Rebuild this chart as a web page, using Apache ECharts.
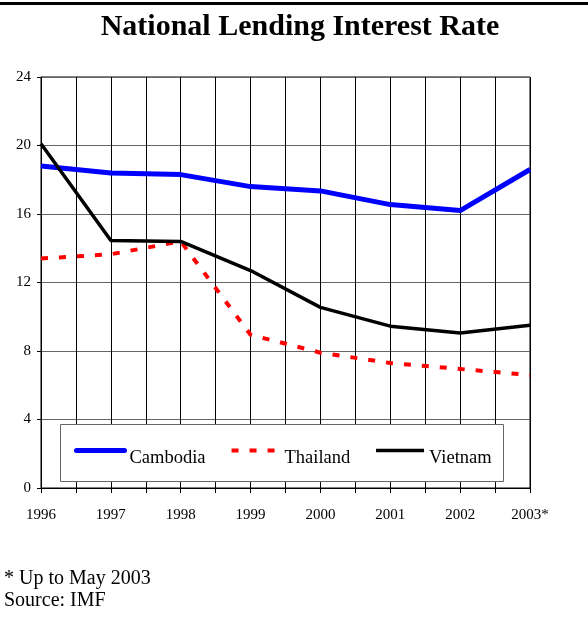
<!DOCTYPE html>
<html>
<head>
<meta charset="utf-8">
<script src="https://cdn.jsdelivr.net/npm/echarts@6/dist/echarts.min.js"></script>
<style>
html, body { margin: 0; padding: 0; background: #fff; }
#chart { width: 588px; height: 619px; }
</style>
</head>
<body>
<div id="chart"></div>
<script>
var years = [1996, 1997, 1998, 1999, 2000, 2001, 2002, 2003]
var yearLabels = ['1996', '1997', '1998', '1999', '2000', '2001', '2002', '2003*']
var cambodia = [18.8, 18.4, 18.3, 17.6, 17.35, 16.55, 16.2, 18.6]
var thailand = [13.4, 13.65, 14.4, 8.95, 7.9, 7.3, 6.95, 6.6]
var vietnam = [20.1, 14.45, 14.4, 12.7, 10.55, 9.45, 9.05, 9.5]

var serif = "'Liberation Serif', 'Times New Roman', serif"

function pairs(vals) {
  return years.map(function (y, i) { return [y, vals[i]] })
}

var chart = echarts.init(document.getElementById('chart'))
chart.setOption({
  animation: false,
  title: {
    text: 'National Lending Interest Rate',
    left: 295,
    textAlign: 'center',
    top: 7,
    textStyle: { fontFamily: serif, fontSize: 30, fontWeight: 'bold', color: '#000' }
  },
  grid: {
    left: 41,
    right: 58,
    top: 77,
    bottom: 131,
    show: true,
    borderColor: '#000',
    borderWidth: 1
  },
  legend: {
    left: 74,
    top: 445,
    z: 10,
    padding: 0,
    itemWidth: 48,
    itemHeight: 14,
    itemGap: 24,
    itemStyle: { opacity: 0 },
    formatter: '{t|{name}}',
    textStyle: {
      fontFamily: serif, fontSize: 18.5, color: '#000',
      rich: { t: { fontFamily: serif, fontSize: 18.5, color: '#000', padding: [15, 0, 0, 0] } }
    },
    data: [
      { name: 'Cambodia', lineStyle: { width: 5, cap: 'round' } },
      { name: 'Thailand', lineStyle: { width: 4 } },
      { name: 'Vietnam', lineStyle: { width: 3.5 } }
    ]
  },
  xAxis: {
    type: 'value',
    min: 1996,
    max: 2003,
    interval: 0.5,
    axisLine: { lineStyle: { color: '#000' } },
    axisTick: { show: true, length: 5, lineStyle: { color: '#000' } },
    splitLine: { show: true, lineStyle: { color: '#000', width: 1 } },
    axisLabel: {
      margin: 20,
      fontFamily: serif,
      fontSize: 15,
      color: '#000',
      formatter: function (v) {
        var i = years.indexOf(v)
        return i >= 0 ? yearLabels[i] : ''
      }
    }
  },
  yAxis: {
    type: 'value',
    min: 0,
    max: 24,
    interval: 4,
    axisLine: { show: true, lineStyle: { color: '#000' } },
    axisTick: { show: true, length: 4, lineStyle: { color: '#000' } },
    splitLine: { show: true, lineStyle: { color: '#666', width: 1 } },
    axisLabel: { margin: 10, fontFamily: serif, fontSize: 15, color: '#000' }
  },
  graphic: [
    { type: 'rect', shape: { x: 0, y: 2, width: 588, height: 3 }, style: { fill: '#000' } },
    {
      type: 'rect', z: 5,
      shape: { x: 60.5, y: 424.5, width: 443, height: 57 },
      style: { fill: '#fff', stroke: '#666', lineWidth: 1 }
    },
    {
      type: 'text', left: 4, top: 569,
      style: { text: '* Up to May 2003', font: '20px ' + serif, fill: '#000' }
    },
    {
      type: 'text', left: 4, top: 591,
      style: { text: 'Source: IMF', font: '20px ' + serif, fill: '#000' }
    }
  ],
  series: [
    {
      name: 'Cambodia',
      type: 'line',
      data: pairs(cambodia),
      symbol: 'none',
      lineStyle: { color: '#0000ff', width: 5 },
      itemStyle: { color: '#0000ff' }
    },
    {
      name: 'Thailand',
      type: 'line',
      data: pairs(thailand),
      symbol: 'none',
      lineStyle: { color: '#ff0000', width: 4, type: [7, 11] },
      itemStyle: { color: '#ff0000' }
    },
    {
      name: 'Vietnam',
      type: 'line',
      data: pairs(vietnam),
      symbol: 'none',
      lineStyle: { color: '#000', width: 3.5 },
      itemStyle: { color: '#000' }
    }
  ]
})
</script>
</body>
</html>
